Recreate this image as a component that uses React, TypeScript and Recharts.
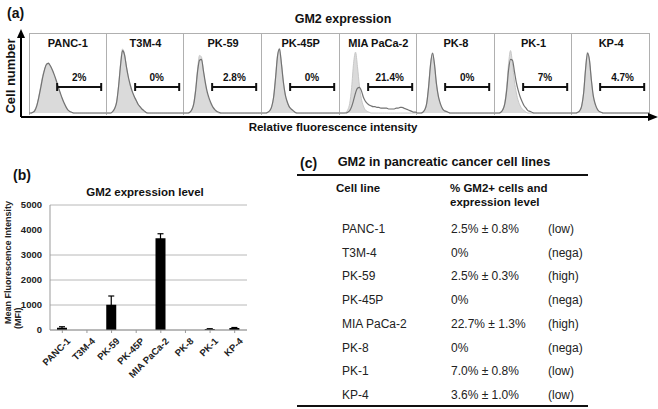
import React from 'react';
import { ComposedChart, Area, Line, XAxis, YAxis, ReferenceLine, BarChart, Bar, ErrorBar, CartesianGrid } from 'recharts';

const FONT = '"Liberation Sans", Arial, Helvetica, sans-serif';

// cell lines, same order in every panel
const cellLines = ['PANC-1', 'T3M-4', 'PK-59', 'PK-45P', 'MIA PaCa-2', 'PK-8', 'PK-1', 'KP-4'];

// (a) flow cytometry histograms, bins on log scale, height in % of panel
const gatePercent = ['2%', '0%', '2.8%', '0%', '21.4%', '0%', '7%', '4.7%'];
const controlHist: number[][] = [
    [0, 0, 1, 4, 10, 20, 33, 46, 55, 60, 63, 58, 53, 47, 40, 32, 25, 18, 12, 7, 4, 2, 1, 0],
    [0, 0, 0, 2, 6, 15, 35, 62, 80, 74, 58, 44, 34, 26, 20, 15, 11, 7, 4, 2, 1, 0],
    [0, 0, 0, 1, 4, 12, 30, 55, 72, 70, 52, 36, 24, 16, 10, 6, 3, 1, 0],
    [0, 0, 0, 1, 3, 8, 20, 45, 72, 81, 62, 38, 22, 13, 8, 5, 3, 1, 0],
    [0, 0, 0, 1, 4, 12, 32, 62, 76, 58, 34, 18, 9, 4, 2, 1, 0],
    [0, 0, 0, 1, 4, 12, 34, 62, 75, 60, 36, 20, 11, 6, 3, 2, 1, 0],
    [0, 0, 0, 1, 4, 12, 32, 62, 78, 62, 40, 25, 15, 9, 5, 3, 1, 0],
    [0, 0, 0, 1, 3, 9, 26, 56, 76, 66, 40, 20, 10, 5, 2, 1, 0],
];
const gm2Hist: number[][] = [
    [0, 0, 1, 3, 9, 19, 31, 44, 54, 61, 62, 59, 54, 48, 41, 33, 26, 19, 13, 8, 4, 2, 1, 0],
    [0, 0, 0, 2, 6, 14, 34, 60, 78, 73, 58, 45, 35, 27, 21, 16, 11, 8, 5, 3, 1, 0],
    [0, 0, 0, 1, 4, 11, 28, 52, 66, 67, 53, 38, 26, 18, 12, 7, 4, 2, 1, 0],
    [0, 0, 0, 1, 3, 8, 20, 44, 71, 80, 62, 39, 23, 14, 8, 5, 3, 1, 0],
    [0, 0, 0, 0, 1, 3, 8, 16, 25, 31, 32, 28, 20, 15, 12, 10, 9, 8, 8, 7, 7, 6, 6, 6, 6, 5, 5, 5, 5, 6, 6, 7, 7, 6, 5, 4, 3, 2, 1, 1, 0],
    [0, 0, 0, 1, 4, 12, 33, 61, 75, 61, 37, 21, 12, 6, 3, 2, 1, 0],
    [0, 0, 0, 1, 4, 11, 28, 54, 67, 66, 52, 38, 28, 20, 14, 9, 6, 3, 2, 1, 0],
    [0, 0, 0, 1, 3, 9, 25, 55, 75, 66, 41, 21, 11, 5, 2, 1, 0],
];

// (b) mean fluorescence intensity
const mfi = [90, 0, 1010, 0, 3670, 0, 40, 80];
const mfiErr = [40, null, 350, null, 180, null, 10, 20];
const mfiTicks = [0, 1000, 2000, 3000, 4000, 5000];

// (c) table
const tableValue = ['2.5% ± 0.8%', '0%', '2.5% ± 0.3%', '0%', '22.7% ± 1.3%', '0%', '7.0% ± 0.8%', '3.6% ± 1.0%'];
const tableLevel = ['(low)', '(nega)', '(high)', '(nega)', '(high)', '(nega)', '(low)', '(low)'];

const BINS = 40;
const STRIP_LEFT = 29;
const STRIP_W = 621;
const PANEL_W = STRIP_W / 8;
const GATE_FROM = 14.5;
const GATE_TO = 37.2;
const GATE_Y = 32.5;
const CAP = 5;

function Histogram({ index }: { index: number }) {
    const ctrl = controlHist[index];
    const gm2 = gm2Hist[index];
    const data = Array.from({ length: BINS + 1 }, (_, i) => ({
        bin: i,
        control: ctrl[i] ?? 0,
        gm2: gm2[i] ?? 0,
    }));
    return (
        <ComposedChart width={PANEL_W} height={82} data={data} margin={{ top: 0, right: 0, bottom: 2, left: 0 }}>
            <XAxis dataKey="bin" type="number" domain={[0, BINS]} hide />
            <YAxis domain={[0, 100]} hide />
            <Area dataKey="control" type="monotone" fill="#dadada" fillOpacity={1} stroke="#c8c8c8" strokeWidth={1} isAnimationActive={false} />
            <Line dataKey="gm2" type="monotone" stroke="#737373" strokeWidth={1.2} dot={false} isAnimationActive={false} />
            <ReferenceLine segment={[{ x: GATE_FROM, y: GATE_Y }, { x: GATE_TO, y: GATE_Y }]} stroke="#111" strokeWidth={2} />
            <ReferenceLine segment={[{ x: GATE_FROM, y: GATE_Y - CAP }, { x: GATE_FROM, y: GATE_Y + CAP }]} stroke="#111" strokeWidth={2} />
            <ReferenceLine segment={[{ x: GATE_TO, y: GATE_Y - CAP }, { x: GATE_TO, y: GATE_Y + CAP }]} stroke="#111" strokeWidth={2} />
        </ComposedChart>
    );
}

const SlantTick = ({ x, y, payload }: { x?: number; y?: number; payload?: { value: string } }) => (
    <text
        x={0}
        y={0}
        transform={`translate(${(x ?? 0) + 4},${(y ?? 0) + 2}) rotate(-45)`}
        textAnchor="end"
        dy="0.7em"
        fontSize={9.5}
        fontWeight="bold"
        fill="#222"
        fontFamily={FONT}
    >
        {payload?.value}
    </text>
);

export default function App() {
    const mfiData = cellLines.map((name, i) => ({ name, mfi: mfi[i], err: mfiErr[i] }));
    const bold = { fontWeight: 'bold' as const };
    const abs = (left: number, top: number, extra: React.CSSProperties = {}): React.CSSProperties => ({
        position: 'absolute', left, top, whiteSpace: 'nowrap', lineHeight: 1, ...extra,
    });

    return (
        <div style={{ position: 'absolute', left: 0, top: 0, width: 658, height: 409, background: '#fff', fontFamily: FONT, color: '#111', overflow: 'hidden' }}>
            {/* (a) */}
            <div style={abs(7, 6, { ...bold, fontSize: 14 })}>(a)</div>
            <div style={abs(343, 13, { ...bold, fontSize: 12.5, transform: 'translateX(-50%)' })}>GM2 expression</div>
            <div style={{ position: 'absolute', left: STRIP_LEFT, top: 33, width: STRIP_W, height: 82, border: '1px solid #b0b0b0', borderBottom: 'none', boxSizing: 'border-box' }} />
            {cellLines.map((name, i) => (
                <div key={name} style={{ position: 'absolute', left: STRIP_LEFT + i * PANEL_W, top: 33, width: PANEL_W, height: 82, borderRight: i < 7 ? '1px solid #b0b0b0' : 'none', boxSizing: 'border-box' }}>
                    <div style={{ position: 'absolute', left: 0, top: 0 }}>
                        <Histogram index={i} />
                    </div>
                    <div style={abs(PANEL_W / 2, 5, { ...bold, fontSize: 11, transform: 'translateX(-50%)' })}>{name}</div>
                    <div style={abs(((GATE_FROM + GATE_TO) / 2 / BINS) * PANEL_W, 40, { ...bold, fontSize: 10, transform: 'translateX(-50%)' })}>{gatePercent[i]}</div>
                </div>
            ))}
            <svg width={658} height={125} style={{ position: 'absolute', left: 0, top: 0 }}>
                <line x1={21} y1={117} x2={652} y2={117} stroke="#000" strokeWidth={2} />
                <polygon points="658,117 648,113 648,121" fill="#000" />
                <line x1={21} y1={117} x2={21} y2={36} stroke="#000" strokeWidth={2} />
                <polygon points="21,29 17,38 25,38" fill="#000" />
                <text x={0} y={0} transform="translate(15,76) rotate(-90)" textAnchor="middle" fontSize={13} fontWeight="bold" fontFamily={FONT} fill="#111">Cell number</text>
            </svg>
            <div style={abs(333, 122, { ...bold, fontSize: 11.5, transform: 'translateX(-50%)' })}>Relative fluorescence intensity</div>

            {/* (b) */}
            <div style={abs(13, 168, { ...bold, fontSize: 14 })}>(b)</div>
            <div style={abs(145, 187, { ...bold, fontSize: 11.5, transform: 'translateX(-50%)' })}>GM2 expression level</div>
            <svg width={30} height={140} style={{ position: 'absolute', left: 0, top: 195 }}>
                <text x={0} y={0} transform="translate(11,129) rotate(-90)" textAnchor="start" fontSize={9} fontWeight="bold" fontFamily={FONT} fill="#222">Mean Fluorescence Intensity</text>
                <text x={0} y={0} transform="translate(21,134) rotate(-90)" textAnchor="start" fontSize={9} fontWeight="bold" fontFamily={FONT} fill="#222">(MFI)</text>
            </svg>
            <div style={{ position: 'absolute', left: 0, top: 200 }}>
                <BarChart width={252} height={200} data={mfiData} margin={{ top: 5, right: 5, bottom: 0, left: 0 }}>
                    <CartesianGrid vertical={false} stroke="#b8b8b8" />
                    <XAxis dataKey="name" interval={0} tick={<SlantTick />} height={70} axisLine={{ stroke: '#999' }} tickLine={{ stroke: '#999' }} tickSize={3} />
                    <YAxis domain={[0, 5000]} ticks={mfiTicks} width={50} tick={{ fontSize: 9.5, fontWeight: 'bold', fill: '#222', fontFamily: FONT }} axisLine={{ stroke: '#999' }} tickLine={false} />
                    <Bar dataKey="mfi" fill="#000" barSize={10} isAnimationActive={false}>
                        <ErrorBar dataKey="err" width={3} stroke="#000" strokeWidth={1.2} direction="y" />
                    </Bar>
                </BarChart>
            </div>

            {/* (c) */}
            <div style={abs(300, 156, { ...bold, fontSize: 14 })}>(c)</div>
            <div style={abs(444, 156, { ...bold, fontSize: 12.8, transform: 'translateX(-50%)' })}>GM2 in pancreatic cancer cell lines</div>
            <div style={{ position: 'absolute', left: 297, top: 174, width: 291, height: 1.5, background: '#111' }} />
            <div style={abs(336, 183, { ...bold, fontSize: 11.5 })}>Cell line</div>
            <div style={abs(450, 183, { ...bold, fontSize: 11.5 })}>% GM2+ cells and</div>
            <div style={abs(450, 197, { ...bold, fontSize: 11.5 })}>expression level</div>
            {cellLines.map((name, i) => {
                const top = 223 + i * 23.7;
                return (
                    <React.Fragment key={name}>
                        <div style={abs(342, top, { fontSize: 12, color: '#222' })}>{name}</div>
                        <div style={abs(451, top, { fontSize: 12, color: '#222' })}>{tableValue[i]}</div>
                        <div style={abs(548, top, { fontSize: 12, color: '#222' })}>{tableLevel[i]}</div>
                    </React.Fragment>
                );
            })}
            <div style={{ position: 'absolute', left: 297, top: 405, width: 291, height: 2, background: '#111' }} />
        </div>
    );
}
